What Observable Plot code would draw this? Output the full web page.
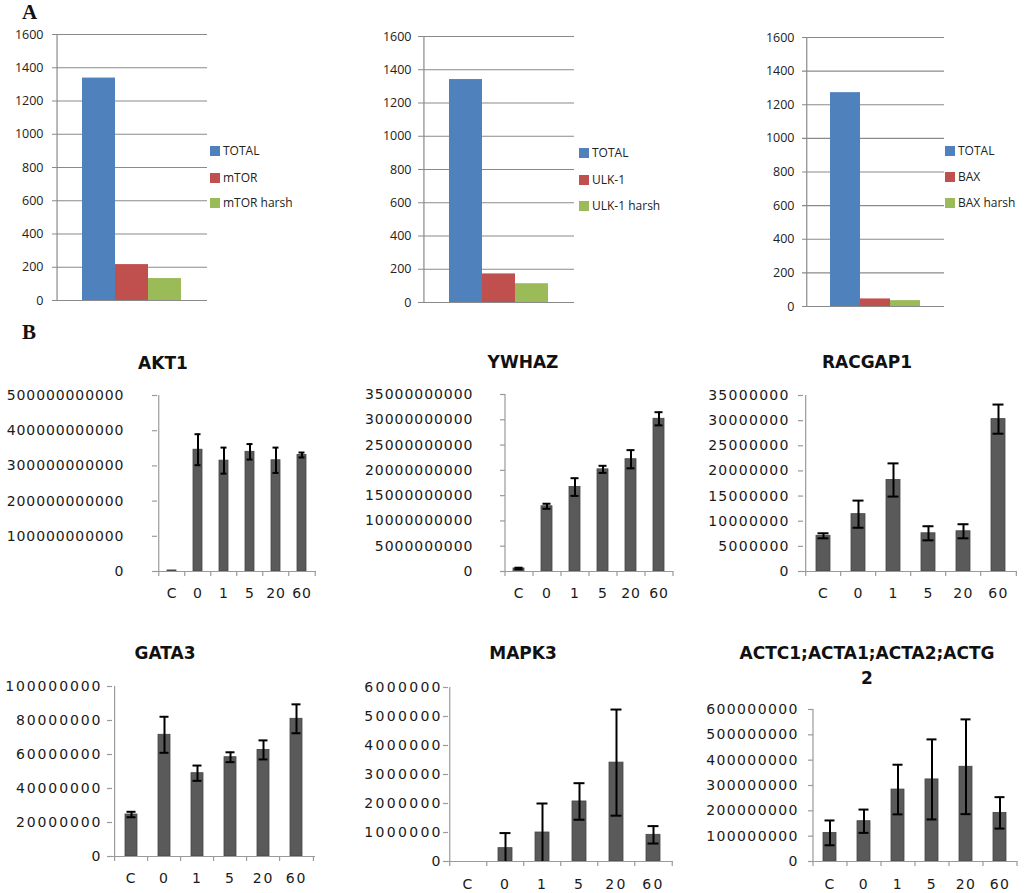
<!DOCTYPE html>
<html><head><meta charset="utf-8">
<script src="https://cdn.jsdelivr.net/npm/d3@7"></script>
<script src="https://cdn.jsdelivr.net/npm/@observablehq/plot@0.6"></script>
<style>
body{margin:0;background:#fff;}
#root{position:relative;width:1024px;height:893px;overflow:hidden;background:#fff;}
.abs{position:absolute;white-space:nowrap;}
.panel{font-family:"Liberation Serif",serif;font-weight:bold;font-size:21px;color:#111;}
.leg{font-family:"Open Sans",sans-serif;font-size:12px;color:#222;line-height:14px;}
.sw{display:inline-block;width:10px;height:10px;vertical-align:-1px;margin-right:3px;}
.ttl{font-family:"DejaVu Sans",sans-serif;font-weight:bold;font-size:17px;color:#111;text-align:center;line-height:25px;}
</style></head>
<body><div id="root"></div>
<script>
// ---------- Panel A data ----------
const seriesColors = ["#4F81BD", "#C0504D", "#9BBB59"];
const countTicks = [0, 200, 400, 600, 800, 1000, 1200, 1400, 1600];
const mtorLabels = ["TOTAL", "mTOR", "mTOR harsh"];
const mtorValues = [1338, 216, 132];
const ulkLabels = ["TOTAL", "ULK-1", "ULK-1 harsh"];
const ulkValues = [1341, 172, 113];
const baxLabels = ["TOTAL", "BAX", "BAX harsh"];
const baxValues = [1272, 45, 35];

// ---------- Panel B data ----------
const timepoints = ["C", "0", "1", "5", "20", "60"];
const akt1Mean = [3e9, 346e9, 315e9, 340e9, 316e9, 331e9];
const akt1Err  = [0, 44e9, 37e9, 22e9, 36e9, 7e9];
const akt1Ticks = [0, 100e9, 200e9, 300e9, 400e9, 500e9];
const ywhazMean = [0.6e9, 12.9e9, 16.7e9, 20.2e9, 22.2e9, 30.2e9];
const ywhazErr  = [0.15e9, 0.5e9, 1.75e9, 0.7e9, 1.8e9, 1.3e9];
const ywhazTicks = [0, 5e9, 10e9, 15e9, 20e9, 25e9, 30e9, 35e9];
const racgap1Mean = [7.1e6, 11.4e6, 18.2e6, 7.6e6, 8.0e6, 30.3e6];
const racgap1Err  = [0.5e6, 2.7e6, 3.3e6, 1.4e6, 1.4e6, 2.9e6];
const racgap1Ticks = [0, 5e6, 10e6, 15e6, 20e6, 25e6, 30e6, 35e6];
const gata3Mean = [24.7e6, 71.6e6, 49.0e6, 58.4e6, 62.7e6, 81.0e6];
const gata3Err  = [1.6e6, 10.6e6, 4.5e6, 2.9e6, 5.6e6, 8.5e6];
const gata3Ticks = [0, 20e6, 40e6, 60e6, 80e6, 100e6];
const mapk3Mean = [0, 0.46e6, 1.0e6, 2.07e6, 3.41e6, 0.92e6];
const mapk3Err  = [0, 0.52e6, 1.0e6, 0.63e6, 1.83e6, 0.3e6];
const mapk3Ticks = [0, 1e6, 2e6, 3e6, 4e6, 5e6, 6e6];
const actcMean = [113e6, 159e6, 284e6, 324e6, 374e6, 192e6];
const actcErr  = [49e6, 46e6, 98e6, 158e6, 187e6, 62e6];
const actcTicks = [0, 100e6, 200e6, 300e6, 400e6, 500e6, 600e6];

const root = document.getElementById("root");
function place(node, left, top, width) {
  const d = document.createElement("div");
  d.className = "abs";
  d.style.left = left + "px"; d.style.top = top + "px";
  if (width) d.style.width = width + "px";
  d.appendChild(node);
  root.appendChild(d);
  return d;
}
function htmlAt(html, cls, left, top, width) {
  const d = document.createElement("div");
  d.className = "abs " + cls;
  d.style.left = left + "px"; d.style.top = top + "px";
  if (width) d.style.width = width + "px";
  d.innerHTML = html;
  root.appendChild(d);
  return d;
}

// ---------- Panel A charts ----------
function countChart(labels, values, L) {
  const data = labels.map((s, i) => ({s, v: values[i]}));
  const top = L.yTop - 12;
  const height = (L.y0 - top) + 10;
  const plotW = L.x1 - L.x0, plotH = L.y0 - L.yTop;
  const step = plotW / (3 + 2 * L.pad);
  const chart = Plot.plot({
    width: L.width, height,
    marginLeft: L.x0 - L.left, marginRight: L.left + L.width - L.x1,
    marginTop: L.yTop - top, marginBottom: height - (L.y0 - top),
    style: {fontFamily: "Open Sans, sans-serif", fontSize: "12.5px", background: "transparent", color: "#222", overflow: "visible"},
    x: {domain: labels, paddingInner: 0, paddingOuter: L.pad, axis: null},
    y: {domain: [0, 1600], ticks: countTicks, tickFormat: d3.format("d"), tickSize: 0, tickPadding: L.x0 - L.labelRight, label: null},
    color: {domain: labels, range: seriesColors},
    marks: [
      Plot.ruleY(countTicks, {y: d => d, stroke: "#8a8a8a", strokeWidth: 1.2, insetLeft: -4}),
      Plot.ruleX([labels[0]], {x: d => d, dx: -(0.5 + L.pad) * step, stroke: "#8a8a8a", strokeWidth: 1.2}),
      Plot.barY(data, {x: "s", y: "v", fill: "s"})
    ]
  });
  place(chart, L.left, top, L.width);
  labels.forEach((s, i) => {
    htmlAt(`<span class="sw" style="background:${seriesColors[i]}"></span>${s}`, "leg", L.legX, L.legY[i] - 7);
  });
}
countChart(mtorLabels, mtorValues, {left: 0, width: 210, x0: 56, x1: 207, yTop: 34, y0: 300, labelRight: 43, pad: 0.75, legX: 210, legY: [151, 178, 203]});
countChart(ulkLabels, ulkValues, {left: 360, width: 218, x0: 422, x1: 574, yTop: 36, y0: 302, labelRight: 411, pad: 0.74, legX: 579, legY: [153, 180, 206]});
countChart(baxLabels, baxValues, {left: 740, width: 208, x0: 806, x1: 944, yTop: 37, y0: 306, labelRight: 794, pad: 0.78, legX: 945, legY: [151, 177, 203]});

htmlAt("A", "panel", 22, 0);
htmlAt("B", "panel", 22, 320);

// ---------- Panel B charts ----------
function geneChart(means, errs, ticks, L) {
  const data = timepoints.map((t, i) => ({t, m: means[i], e: errs[i]}));
  const fs = 14;
  const top = L.yTop - 14;
  const height = (L.y0 - top) + 34;
  const plotW = L.x1 - L.x0, plotH = L.y0 - L.yTop;
  const step = plotW / timepoints.length;
  const withErr = data.filter(d => d.e > 0);
  const chart = Plot.plot({
    width: L.width, height,
    marginLeft: L.x0 - L.left, marginRight: L.left + L.width - L.x1,
    marginTop: L.yTop - top, marginBottom: height - (L.y0 - top),
    style: {fontFamily: "DejaVu Sans, sans-serif", fontSize: fs + "px", letterSpacing: L.ls + "px", background: "transparent", color: "#1a1a1a", overflow: "visible"},
    x: {domain: timepoints, paddingInner: L.pad, paddingOuter: L.pad / 2, tickSize: 0, tickPadding: L.xLabY - L.y0 - 0.35 * fs, label: null},
    y: {domain: [0, ticks[ticks.length - 1]], ticks, tickFormat: d3.format("d"), tickSize: 0, tickPadding: L.x0 - L.labelRight - L.ls, label: null},
    marks: [
      Plot.barY(data.filter(d => d.m > 0), {x: "t", y: "m", fill: "#5a5a5a", stroke: "#444", strokeWidth: 0.8}),
      Plot.ruleX(withErr, {x: "t", y1: d => Math.max(0, d.m - d.e), y2: d => d.m + d.e, stroke: "#000", strokeWidth: 2}),
      Plot.tickY(withErr, {x: "t", y: d => d.m + d.e, stroke: "#000", strokeWidth: 2, insetLeft: 1.5, insetRight: 1.5}),
      Plot.tickY(withErr.filter(d => d.m - d.e > 0), {x: "t", y: d => d.m - d.e, stroke: "#000", strokeWidth: 2, insetLeft: 1.5, insetRight: 1.5}),
      Plot.ruleY([0], {stroke: "#9a9a9a", strokeWidth: 1.2}),
      Plot.ruleY(ticks, {y: d => d, stroke: "#9a9a9a", strokeWidth: 1.2, insetLeft: -5, insetRight: plotW}),
      Plot.ruleX([timepoints[0]], {x: d => d, dx: -step / 2, stroke: "#9a9a9a", strokeWidth: 1.2}),
      Plot.ruleX(timepoints, {x: d => d, dx: -step / 2, stroke: "#9a9a9a", strokeWidth: 1.2, insetTop: plotH, insetBottom: -5}),
      Plot.ruleX([timepoints[timepoints.length - 1]], {x: d => d, dx: step / 2, stroke: "#9a9a9a", strokeWidth: 1.2, insetTop: plotH, insetBottom: -5})
    ]
  });
  place(chart, L.left, top, L.width);
  const lines = L.title;
  htmlAt(lines.join("<br>"), "ttl", L.titleX - 150, L.titleY - 12.5, 300);
}

geneChart(akt1Mean, akt1Err, akt1Ticks, {left: 0, width: 340, x0: 157, x1: 316, yTop: 395, y0: 571, labelRight: 123, xLabY: 592, ls: 0.9, pad: 0.65, title: ["AKT1"], titleX: 163, titleY: 363});
geneChart(ywhazMean, ywhazErr, ywhazTicks, {left: 340, width: 340, x0: 505, x1: 673, yTop: 394, y0: 571, labelRight: 472, xLabY: 592, ls: 0.95, pad: 0.6, title: ["YWHAZ"], titleX: 523, titleY: 362});
geneChart(racgap1Mean, racgap1Err, racgap1Ticks, {left: 680, width: 344, x0: 803, x1: 1017, yTop: 395, y0: 571, labelRight: 788, xLabY: 592, ls: 1.3, pad: 0.61, title: ["RACGAP1"], titleX: 867, titleY: 362});
geneChart(gata3Mean, gata3Err, gata3Ticks, {left: 0, width: 340, x0: 112, x1: 315, yTop: 686, y0: 856, labelRight: 100, xLabY: 877, ls: 1.9, pad: 0.63, title: ["GATA3"], titleX: 165, titleY: 653});
geneChart(mapk3Mean, mapk3Err, mapk3Ticks, {left: 340, width: 340, x0: 448, x1: 673, yTop: 687, y0: 861, labelRight: 440, xLabY: 883, ls: 2.3, pad: 0.62, title: ["MAPK3"], titleX: 523, titleY: 653});
geneChart(actcMean, actcErr, actcTicks, {left: 680, width: 344, x0: 813, x1: 1017, yTop: 709, y0: 861, labelRight: 797, xLabY: 883, ls: 1.4, pad: 0.61, title: ["ACTC1;ACTA1;ACTA2;ACTG", "2"], titleX: 867, titleY: 653});
</script>
</body></html>
